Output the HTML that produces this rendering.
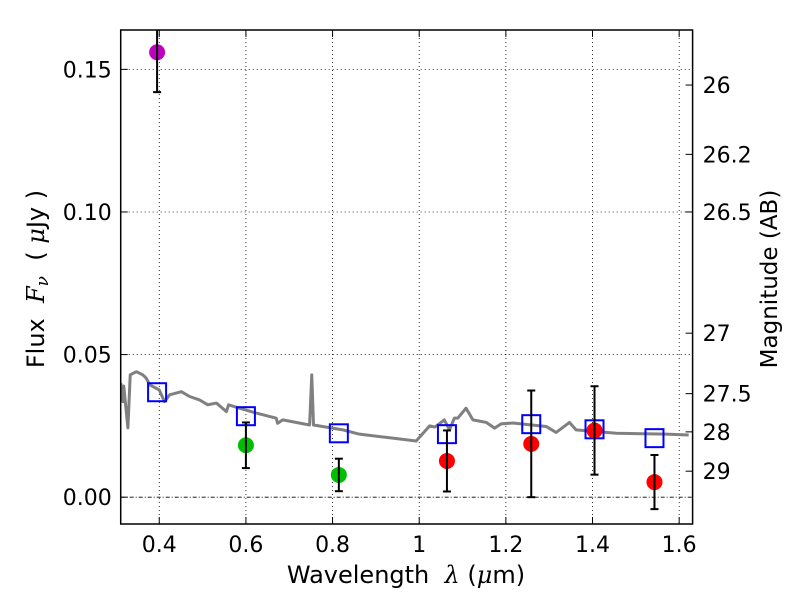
<!DOCTYPE html>
<html><head><meta charset="utf-8">
<style>
html,body{margin:0;padding:0;background:#fff;}
svg{display:block;font-family:"DejaVu Sans","Liberation Sans",sans-serif;}
</style></head>
<body>
<svg id="chart" width="800" height="600" viewBox="0 0 800 600" xmlns="http://www.w3.org/2000/svg"></svg>
<script>
// ---- data ----
const specWl = [0.311,0.316,0.318,0.3276,0.333,0.347,0.362,0.370,0.378,0.400,0.412,0.424,0.451,0.470,0.493,0.512,0.532,0.555,0.560,0.585,0.624,0.670,0.673,0.685,0.747,0.752,0.756,0.824,0.862,0.939,0.993,1.024,1.036,1.058,1.070,1.081,1.089,1.108,1.124,1.155,1.174,1.189,1.216,1.293,1.316,1.347,1.362,1.455,1.570,1.622];
const specFlux = [0.040,0.0335,0.039,0.0243,0.0429,0.044,0.0429,0.0417,0.0394,0.0376,0.0335,0.0359,0.037,0.0353,0.0341,0.0324,0.033,0.030,0.0324,0.0312,0.0295,0.0277,0.0259,0.0271,0.0253,0.0429,0.0253,0.0236,0.0221,0.0207,0.0197,0.025,0.0246,0.0271,0.0236,0.0277,0.0277,0.0312,0.0271,0.0262,0.0242,0.0257,0.026,0.0248,0.0227,0.0262,0.0236,0.0224,0.0221,0.0218];
const obsWl = [0.395,0.600,0.8145,1.064,1.2586,1.4046,1.543];
const obsFlux = [0.156,0.0182,0.0078,0.0127,0.0187,0.0234,0.0053];
const obsErr = [0.014,0.008,0.0057,0.0107,0.0187,0.0155,0.0095];
const obsColor = ["#bf00bf","#00bf00","#00bf00","#ff0000","#ff0000","#ff0000","#ff0000"];
const modelWl = [0.395,0.600,0.8145,1.064,1.2586,1.4046,1.543];
const modelFlux = [0.0368,0.0284,0.0224,0.0221,0.0256,0.0238,0.0207];
const xTicks = [0.4,0.6,0.8,1.0,1.2,1.4,1.6];
const xTickLabels = ["0.4","0.6","0.8","1","1.2","1.4","1.6"];
const yTicks = [0,0.05,0.10,0.15];
const yTickLabels = ["0.00","0.05","0.10","0.15"];
const magTickFlux = [0.1445,0.1202,0.100,0.0575,0.0363,0.0229,0.00912];
const magTickLabels = ["26","26.2","26.5","27","27.5","28","29"];

// ---- layout ----
const L=120.7,R=692.6,T=30,B=524;
const xMin=0.311,xMax=1.631,yMin=-0.0094,yMax=0.1638;
const X=v=>L+(v-xMin)/(xMax-xMin)*(R-L);
const Y=v=>B-(v-yMin)/(yMax-yMin)*(B-T);
const svg=document.getElementById('chart');
const NS="http://www.w3.org/2000/svg";
function mk(tag,attrs,parent){const e=document.createElementNS(NS,tag);for(const k in attrs)e.setAttribute(k,attrs[k]);(parent||svg).appendChild(e);return e;}

const defs=mk('defs',{});
const cp=mk('clipPath',{id:'clip'},defs);
mk('rect',{x:L,y:T,width:R-L,height:B-T},cp);

const grid=mk('g',{});


xTicks.forEach(t=>{mk('line',{x1:X(t),x2:X(t),y1:T,y2:B,stroke:'#000','stroke-width':0.8,'stroke-dasharray':'1,3'},grid);});
yTicks.forEach(t=>{mk('line',{x1:L,x2:R,y1:Y(t),y2:Y(t),stroke:'#000','stroke-width':0.8,'stroke-dasharray':t===0?'4,2,1,2':'1,3'},grid);});

const plot=mk('g',{'clip-path':'url(#clip)'});
const sp=mk('polyline',{points:specWl.map((w,i)=>X(w)+','+Y(specFlux[i])).join(' '),fill:'none',stroke:'#808080','stroke-width':3,'stroke-linejoin':'round'},plot);



modelWl.forEach((w,i)=>{
  const r=mk('rect',{x:X(w)-9,y:Y(modelFlux[i])-9,width:18,height:18,fill:'none',stroke:'#0000ff','stroke-width':2},plot);
  
  
});
obsWl.forEach((w,i)=>{
  const g=mk('g',{},plot);
  
  
  const x=X(w),y1=Y(obsFlux[i]+obsErr[i]),y2=Y(obsFlux[i]-obsErr[i]);
  mk('circle',{cx:x,cy:Y(obsFlux[i]),r:8,fill:obsColor[i]},g);
  mk('line',{x1:x,x2:x,y1:y1,y2:y2,stroke:'#000','stroke-width':2},g);
  mk('line',{x1:x-4,x2:x+4,y1:y1,y2:y1,stroke:'#000','stroke-width':2},g);
  mk('line',{x1:x-4,x2:x+4,y1:y2,y2:y2,stroke:'#000','stroke-width':2},g);
});

const fr=mk('rect',{x:L,y:T,width:R-L,height:B-T,fill:'none',stroke:'#000','stroke-width':1.5});



xTicks.forEach((t,i)=>{
  mk('line',{x1:X(t),x2:X(t),y1:B,y2:B-7,stroke:'#000'});
  mk('line',{x1:X(t),x2:X(t),y1:T,y2:T+7,stroke:'#000'});
  const tx=mk('text',{x:X(t),y:B+28,'text-anchor':'middle','font-size':22});
  tx.textContent=xTickLabels[i];
  
  
});
yTicks.forEach((t,i)=>{
  mk('line',{x1:L,x2:L+7,y1:Y(t),y2:Y(t),stroke:'#000'});
  const tx=mk('text',{x:L-9,y:Y(t)+8,'text-anchor':'end','font-size':22});
  tx.textContent=yTickLabels[i];
  
  
});
magTickFlux.forEach((f,i)=>{
  mk('line',{x1:R,x2:R-7,y1:Y(f),y2:Y(f),stroke:'#000'});
  const tx=mk('text',{x:R+10,y:Y(f)+8,'text-anchor':'start','font-size':22});
  tx.textContent=magTickLabels[i];
  
  
});

const xt=mk('text',{x:406,y:583,'text-anchor':'middle','font-size':24});
xt.innerHTML='Wavelength&#160;&#160;<tspan font-style="italic" font-family="DejaVu Serif,serif">λ</tspan> (<tspan font-style="italic" font-family="DejaVu Serif,serif">μ</tspan>m)';


const yt=mk('text',{x:0,y:0,'text-anchor':'middle','font-size':24,transform:'translate(44,279) rotate(-90)'});
yt.innerHTML='Flux&#160;&#160;<tspan font-style="italic" font-family="DejaVu Serif,serif">F<tspan font-size="17" dy="4">ν</tspan></tspan><tspan dy="-4">&#160;&#160;(&#160;</tspan><tspan font-style="italic" font-family="DejaVu Serif,serif">μ</tspan>Jy )';


const rt=mk('text',{x:0,y:0,'text-anchor':'middle','font-size':23,transform:'translate(777,279) rotate(-90)'});
rt.textContent='Magnitude (AB)';


</script>
</body></html>
